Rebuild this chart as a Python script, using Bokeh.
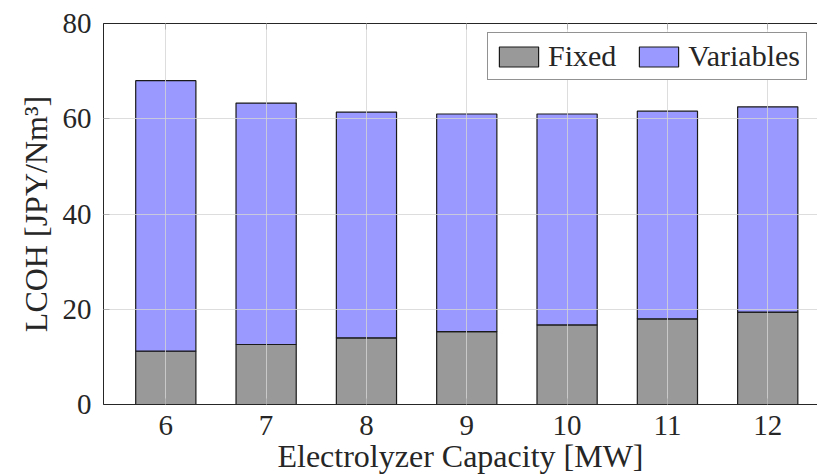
from bokeh.plotting import figure
from bokeh.models import ColumnDataSource, FixedTicker, LinearAxis, Range1d, Legend, LegendItem
from bokeh.embed import file_html
from bokeh.resources import INLINE

capacity = [6, 7, 8, 9, 10, 11, 12]
fixed = [11.2, 12.6, 14.0, 15.3, 16.7, 18.0, 19.4]
variables = [56.8, 50.7, 47.4, 45.7, 44.3, 43.6, 43.1]
y_ticks = [0, 20, 40, 60, 80]
series = ["Fixed", "Variables"]
colors = ["#999999", "#9999ff"]

FONT = "Liberation Serif"
TXT = "#262626"

source = ColumnDataSource(dict(x=capacity, Fixed=fixed, Variables=variables))

p = figure(width=817, height=476, output_backend="svg", toolbar_location=None,
           x_range=Range1d(5.379, 12.496), y_range=Range1d(0, 80),
           min_border_left=103, min_border_right=0, min_border_top=23, min_border_bottom=72)
p.outline_line_color = None

renderers = p.vbar_stack(series, x="x", width=0.6, source=source, color=colors,
                         line_color="#1a1a1a", line_width=1.2)

for ax in (p.xaxis[0], p.yaxis[0]):
    ax.major_tick_in = 6
    ax.major_tick_out = 0
    ax.minor_tick_line_color = None
    ax.axis_line_color = TXT
    ax.major_tick_line_color = TXT
    ax.major_label_text_font = FONT
    ax.major_label_text_font_size = "29px"
    ax.major_label_text_color = TXT
    ax.axis_label_text_font = FONT
    ax.axis_label_text_font_size = "32px"
    ax.axis_label_text_font_style = "normal"
    ax.axis_label_text_color = TXT

p.xaxis.ticker = FixedTicker(ticks=capacity)
p.yaxis.ticker = FixedTicker(ticks=y_ticks)
p.xaxis.axis_label = "Electrolyzer Capacity [MW]"
p.yaxis.axis_label = "LCOH [JPY/Nm³]"
p.xaxis.major_label_standoff = 11
p.yaxis.major_label_standoff = 12
p.xaxis.axis_label_standoff = 0
p.yaxis.axis_label_standoff = 6

# top box edge with inward ticks (labels not drawn)
top = LinearAxis(ticker=FixedTicker(ticks=capacity, minor_ticks=capacity),
                 major_tick_in=0, major_tick_out=0, major_tick_line_color=None,
                 minor_tick_in=6, minor_tick_out=0, minor_tick_line_color=TXT,
                 major_label_standoff=0, major_label_text_font_size="1px",
                 major_label_text_color=None, axis_line_color=TXT)
p.add_layout(top, "above")

for g in (p.xgrid[0], p.ygrid[0]):
    g.grid_line_color = "#d4d4d4"
    g.grid_line_alpha = 0.8
    g.level = "guide"
p.xgrid.ticker = FixedTicker(ticks=capacity)
p.ygrid.ticker = FixedTicker(ticks=y_ticks)

legend = Legend(items=[LegendItem(label=s, renderers=[r]) for s, r in zip(series, renderers)],
                orientation="horizontal", location=(384, 324),
                label_text_font=FONT, label_text_font_size="30px", label_text_color=TXT,
                glyph_width=49, glyph_height=25, label_standoff=5, spacing=18,
                padding=6, margin=0, border_line_color=TXT, border_line_width=1,
                background_fill_alpha=1.0, label_height=25)
p.add_layout(legend, "center")

open("out.html", "w").write(file_html(p, INLINE))
